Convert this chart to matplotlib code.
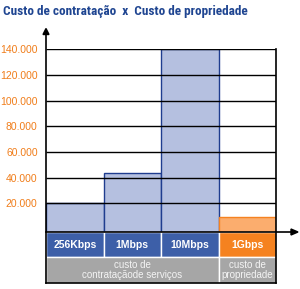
import matplotlib
matplotlib.use('Agg')
import matplotlib.pyplot as plt
from matplotlib.patches import Rectangle, Polygon
from matplotlib import font_manager

title = 'Custo de contratação  x  Custo de propriedade'
categories = ['256Kbps', '1Mbps', '10Mbps', '1Gbps']
values = [20000, 44000, 140000, 9500]
groups = ['custo de\ncontrataçãode serviços', 'custo de\npropriedade']
group_spans = [3, 1]
yticks = [20000, 40000, 60000, 80000, 100000, 120000, 140000]
ytick_labels = ['20.000', '40.000', '60.000', '80.000', '100.000', '120.000', '140.000']

names = {f.name for f in font_manager.fontManager.ttflist}
title_family = 'DejaVu Sans'
title_stretch = 'condensed'
for cand in ['Liberation Sans Narrow', 'Roboto Condensed', 'Open Sans Condensed', 'DejaVu Sans Condensed']:
    if cand in names:
        title_family = cand
        break

W, H = 300, 289
fig = plt.figure(figsize=(W / 100, H / 100), dpi=100)
fig.patch.set_facecolor('white')

BLUE = '#3d5fa8'
ORANGE = '#f58220'
GREY = '#a6a6a6'
bar_colors = ['#b5c0e0', '#b5c0e0', '#b5c0e0', '#fbad6e']
bar_edges = ['#1f3d8f', '#1f3d8f', '#1f3d8f', '#f58220']
cell_colors = [BLUE, BLUE, BLUE, ORANGE]

left_px, right_px = 46, 276
top_px, base_px = 49.3, 232
ax = fig.add_axes([left_px / W, 1 - base_px / H, (right_px - left_px) / W, (base_px - top_px) / H])
ymin = -2300
ax.set_xlim(0, 4)
ax.set_ylim(ymin, 140000)
ax.patch.set_alpha(0)
for s in ax.spines.values():
    s.set_visible(False)
ax.set_xticks([])
ax.set_yticks(yticks, ytick_labels)
ax.tick_params(axis='y', length=0, pad=6, labelcolor='#f07d1a', labelsize=7.5)
for t in ax.get_yticklabels():
    t.set_family(['Liberation Sans', 'DejaVu Sans'])

xs = list(range(len(categories)))
ax.bar(xs, [v - ymin for v in values], bottom=ymin, width=1, align='edge',
       color=bar_colors, edgecolor=bar_edges, linewidth=1, zorder=2)
ax.hlines(yticks, 0, 4, color='black', linewidth=1, zorder=3)

# overlay in pixel coords
ov = fig.add_axes([0, 0, 1, 1])
ov.set_xlim(0, W)
ov.set_ylim(H, 0)
ov.axis('off')

tt = ov.text(3, 11, title, fontsize=9, fontweight='heavy', family=[title_family, 'DejaVu Sans'],
             fontstretch=title_stretch, color='#1f4591', va='center', ha='left')
# fit title width to ~245 px
fig.canvas.draw()
bb = tt.get_window_extent()
if bb.width > 0:
    tt.set_fontsize(9 * 245 / bb.width)

col_w = (right_px - left_px) / len(categories)
r1_top, r1_bot, r2_bot = 232, 257, 283
for i, (c, col) in enumerate(zip(categories, cell_colors)):
    x0 = left_px + i * col_w
    ov.add_patch(Rectangle((x0, r1_top), col_w, r1_bot - r1_top, facecolor=col, edgecolor='white', linewidth=1))
    ov.text(x0 + col_w / 2, (r1_top + r1_bot) / 2 + 0.5, c, color='white', fontsize=7.5, fontweight='bold',
            ha='center', va='center', family=['Liberation Sans', 'DejaVu Sans'])
start = 0
for g, span in zip(groups, group_spans):
    x0 = left_px + start * col_w
    ov.add_patch(Rectangle((x0, r1_bot), span * col_w, r2_bot - r1_bot, facecolor=GREY, edgecolor='white', linewidth=1))
    ov.text(x0 + span * col_w / 2, (r1_bot + r2_bot) / 2, g, color='#f4f4f4', fontsize=7,
            ha='center', va='center', linespacing=0.95, family=['Liberation Sans', 'DejaVu Sans'])
    start += span

# borders
ov.plot([left_px, left_px], [r2_bot, 33], color='black', lw=1.2)
ov.plot([right_px, right_px], [top_px, r2_bot], color='black', lw=1.2)
ov.plot([left_px, right_px], [r2_bot, r2_bot], color='black', lw=1.2)
ov.plot([left_px, 292], [232, 232], color='black', lw=1.2)
ov.add_patch(Polygon([[43, 34.5], [49, 34.5], [46, 28.5]], closed=True, color='black'))
ov.add_patch(Polygon([[291, 229], [291, 235], [298, 232]], closed=True, color='black'))

fig.savefig('out.png', dpi=100, facecolor='white')
